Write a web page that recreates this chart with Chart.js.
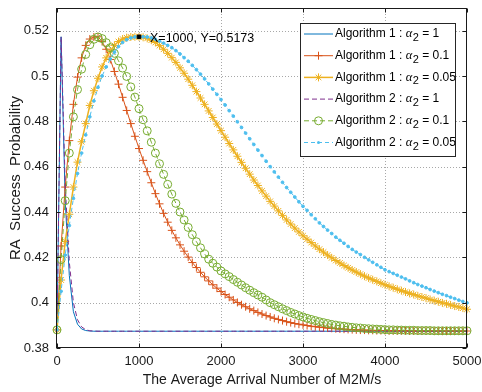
<!DOCTYPE html>
<html>
<head>
<meta charset="utf-8">
<script src="https://cdn.jsdelivr.net/npm/chart.js@4.4.1/dist/chart.umd.min.js"></script>
<style>
  html, body { margin: 0; padding: 0; background: #fff; }
  #wrap { width: 482px; height: 392px; }
</style>
</head>
<body>
<div id="wrap"><canvas id="chart" width="482" height="392"></canvas></div>
<script>
// average arrival number of M2M/s (x)
const arrival = [
  0, 50, 100, 150, 200, 250, 300, 350, 400, 450,
  500, 550, 600, 650, 700, 750, 800, 850, 900, 950,
  1000, 1050, 1100, 1150, 1200, 1250, 1300, 1350, 1400, 1450,
  1500, 1550, 1600, 1650, 1700, 1750, 1800, 1850, 1900, 1950,
  2000, 2050, 2100, 2150, 2200, 2250, 2300, 2350, 2400, 2450,
  2500, 2550, 2600, 2650, 2700, 2750, 2800, 2850, 2900, 2950,
  3000, 3050, 3100, 3150, 3200, 3250, 3300, 3350, 3400, 3450,
  3500, 3550, 3600, 3650, 3700, 3750, 3800, 3850, 3900, 3950,
  4000, 4050, 4100, 4150, 4200, 4250, 4300, 4350, 4400, 4450,
  4500, 4550, 4600, 4650, 4700, 4750, 4800, 4850, 4900, 4950,
  5000
];

// RA success probability, Algorithm 1
const alg1Alpha1 = [
  0.388, 0.5173, 0.445, 0.412, 0.396, 0.3905, 0.3884, 0.3877, 0.3875, 0.3874,
  0.3874, 0.3874, 0.3874, 0.3874, 0.3874, 0.3874, 0.3874, 0.3874, 0.3874, 0.3874,
  0.3874, 0.3874, 0.3874, 0.3874, 0.3874, 0.3874, 0.3874, 0.3874, 0.3874, 0.3874,
  0.3874, 0.3874, 0.3874, 0.3874, 0.3874, 0.3874, 0.3874, 0.3874, 0.3874, 0.3874,
  0.3874, 0.3874, 0.3874, 0.3874, 0.3874, 0.3874, 0.3874, 0.3874, 0.3874, 0.3874,
  0.3874, 0.3874, 0.3874, 0.3874, 0.3874, 0.3874, 0.3874, 0.3874, 0.3874, 0.3874,
  0.3874, 0.3874, 0.3874, 0.3874, 0.3874, 0.3874, 0.3874, 0.3874, 0.3874, 0.3874,
  0.3874, 0.3874, 0.3874, 0.3874, 0.3874, 0.3874, 0.3874, 0.3874, 0.3874, 0.3874,
  0.3874, 0.3874, 0.3874, 0.3874, 0.3874, 0.3874, 0.3874, 0.3874, 0.3874, 0.3874,
  0.3874, 0.3874, 0.3874, 0.3874, 0.3874, 0.3874, 0.3874, 0.3874, 0.3874, 0.3874,
  0.3874
];
const alg1Alpha01 = [
  0.388, 0.425, 0.451, 0.4715, 0.4875, 0.4995, 0.508, 0.5135, 0.5163, 0.5172,
  0.5173, 0.5152, 0.5118, 0.5073, 0.5020, 0.4964, 0.4906, 0.4848, 0.4790, 0.4734,
  0.4680, 0.4628, 0.4578, 0.4529, 0.4481, 0.4436, 0.4394, 0.4355, 0.4319, 0.4286,
  0.4255, 0.4227, 0.4201, 0.4177, 0.4155, 0.4134, 0.4114, 0.4096, 0.4079, 0.4064,
  0.4049, 0.4036, 0.4024, 0.4012, 0.4001, 0.3991, 0.3982, 0.3973, 0.3965, 0.3957,
  0.3950, 0.3943, 0.3937, 0.3931, 0.3926, 0.3921, 0.3916, 0.3912, 0.3908, 0.3905,
  0.3902, 0.3899, 0.3896, 0.3894, 0.3892, 0.3890, 0.3888, 0.3887, 0.3885, 0.3884,
  0.3883, 0.3882, 0.3881, 0.3880, 0.3879, 0.3879, 0.3878, 0.3878, 0.3877, 0.3877,
  0.3877, 0.3876, 0.3876, 0.3876, 0.3876, 0.3876, 0.3875, 0.3875, 0.3875, 0.3875,
  0.3875, 0.3875, 0.3875, 0.3875, 0.3875, 0.3875, 0.3875, 0.3875, 0.3875, 0.3875,
  0.3875
];
const alg1Alpha005 = [
  0.388, 0.410, 0.427, 0.439, 0.451, 0.462, 0.471, 0.479, 0.487, 0.4935,
  0.499, 0.504, 0.508, 0.511, 0.5135, 0.5152, 0.5163, 0.5169, 0.5172, 0.5173,
  0.5173, 0.5171, 0.5166, 0.5158, 0.5148, 0.5134, 0.5118, 0.5100, 0.5081, 0.5060,
  0.5036, 0.5012, 0.4986, 0.4959, 0.4931, 0.4903, 0.4875, 0.4846, 0.4817, 0.4788,
  0.4759, 0.4730, 0.4702, 0.4674, 0.4646, 0.4619, 0.4593, 0.4567, 0.4541, 0.4517,
  0.4493, 0.4470, 0.4447, 0.4426, 0.4405, 0.4385, 0.4365, 0.4347, 0.4329, 0.4312,
  0.4295, 0.4280, 0.4265, 0.4250, 0.4236, 0.4223, 0.4210, 0.4198, 0.4186, 0.4175,
  0.4164, 0.4154, 0.4144, 0.4135, 0.4126, 0.4117, 0.4109, 0.4101, 0.4094, 0.4086,
  0.4079, 0.4072, 0.4066, 0.4059, 0.4053, 0.4047, 0.4041, 0.4036, 0.4030, 0.4025,
  0.4020, 0.4014, 0.4009, 0.4004, 0.3999, 0.3995, 0.3990, 0.3985, 0.3981, 0.3976,
  0.3971
];

// RA success probability, Algorithm 2
const alg2Alpha1 = [
  0.388, 0.5173, 0.452, 0.418, 0.400, 0.3925, 0.3893, 0.3881, 0.3876, 0.3875,
  0.3874, 0.3874, 0.3874, 0.3874, 0.3874, 0.3874, 0.3874, 0.3874, 0.3874, 0.3874,
  0.3874, 0.3874, 0.3874, 0.3874, 0.3874, 0.3874, 0.3874, 0.3874, 0.3874, 0.3874,
  0.3874, 0.3874, 0.3874, 0.3874, 0.3874, 0.3874, 0.3874, 0.3874, 0.3874, 0.3874,
  0.3874, 0.3874, 0.3874, 0.3874, 0.3874, 0.3874, 0.3874, 0.3874, 0.3874, 0.3874,
  0.3874, 0.3874, 0.3874, 0.3874, 0.3874, 0.3874, 0.3874, 0.3874, 0.3874, 0.3874,
  0.3874, 0.3874, 0.3874, 0.3874, 0.3874, 0.3874, 0.3874, 0.3874, 0.3874, 0.3874,
  0.3874, 0.3874, 0.3874, 0.3874, 0.3874, 0.3874, 0.3874, 0.3874, 0.3874, 0.3874,
  0.3874, 0.3874, 0.3874, 0.3874, 0.3874, 0.3874, 0.3874, 0.3874, 0.3874, 0.3874,
  0.3874, 0.3874, 0.3874, 0.3874, 0.3874, 0.3874, 0.3874, 0.3874, 0.3874, 0.3874,
  0.3874
];
const alg2Alpha01 = [
  0.388, 0.419, 0.445, 0.466, 0.482, 0.494, 0.503, 0.5095, 0.5138, 0.5162,
  0.5172, 0.5165, 0.5147, 0.5125, 0.5100, 0.5067, 0.5035, 0.4998, 0.4952, 0.4907,
  0.4856, 0.4807, 0.4758, 0.4708, 0.4660, 0.4613, 0.4566, 0.4522, 0.4479, 0.4438,
  0.4400, 0.4365, 0.4332, 0.4300, 0.4269, 0.4242, 0.4215, 0.4192, 0.4174, 0.4157,
  0.4140, 0.4127, 0.4115, 0.4102, 0.4090, 0.4078, 0.4066, 0.4055, 0.4044, 0.4034,
  0.4024, 0.4012, 0.4000, 0.3991, 0.3982, 0.3973, 0.3965, 0.3957, 0.3950, 0.3943,
  0.3937, 0.3931, 0.3926, 0.3921, 0.3916, 0.3912, 0.3908, 0.3904, 0.3901, 0.3898,
  0.3896, 0.3893, 0.3891, 0.3889, 0.3888, 0.3886, 0.3885, 0.3884, 0.3883, 0.3882,
  0.3881, 0.3880, 0.3880, 0.3879, 0.3879, 0.3878, 0.3878, 0.3878, 0.3877, 0.3877,
  0.3877, 0.3877, 0.3876, 0.3876, 0.3876, 0.3876, 0.3876, 0.3876, 0.3876, 0.3876,
  0.3876
];
const alg2Alpha005 = [
  0.388, 0.405, 0.421, 0.434, 0.446, 0.457, 0.466, 0.474, 0.482, 0.489,
  0.495, 0.500, 0.504, 0.5075, 0.5105, 0.513, 0.5148, 0.516, 0.5168, 0.5172,
  0.5173, 0.5173, 0.5172, 0.5168, 0.5162, 0.5154, 0.5145, 0.5135, 0.5125, 0.5112,
  0.5097, 0.5081, 0.5065, 0.5047, 0.5028, 0.5008, 0.4987, 0.4965, 0.4942, 0.4919,
  0.4896, 0.4872, 0.4847, 0.4823, 0.4798, 0.4773, 0.4748, 0.4723, 0.4698, 0.4673,
  0.4649, 0.4624, 0.4600, 0.4577, 0.4554, 0.4531, 0.4508, 0.4487, 0.4466, 0.4445,
  0.4425, 0.4407, 0.4388, 0.4370, 0.4352, 0.4336, 0.4320, 0.4305, 0.4289, 0.4275,
  0.4262, 0.4248, 0.4235, 0.4223, 0.4212, 0.4200, 0.4189, 0.4178, 0.4167, 0.4156,
  0.4145, 0.4137, 0.4129, 0.4121, 0.4113, 0.4105, 0.4096, 0.4088, 0.4080, 0.4073,
  0.4066, 0.4058, 0.4051, 0.4044, 0.4037, 0.4031, 0.4024, 0.4018, 0.4011, 0.4005,
  0.3999
];

const xTicks = [0, 1000, 2000, 3000, 4000, 5000];
const yTicks = [0.38, 0.4, 0.42, 0.44, 0.46, 0.48, 0.5, 0.52];
const algNames = ['Algorithm 1', 'Algorithm 1', 'Algorithm 1', 'Algorithm 2', 'Algorithm 2', 'Algorithm 2'];
const alphaLabels = ['1', '0.1', '0.05', '1', '0.1', '0.05'];
const tipIndex = 20; // data tip on Algorithm 1, alpha2 = 0.05

const FONT = '"Liberation Sans", Arial, Helvetica, sans-serif';
const AXIS = '#1a1a1a';

// matlab-ish line styles
const styles = [
  { color: '#0072BD', dash: [], width: 1, marker: null },
  { color: '#D95319', dash: [], width: 1, marker: 'cross' },
  { color: '#EDB120', dash: [], width: 1.5, marker: 'star' },
  { color: '#7E2F8E', dash: [5, 3], width: 1, marker: null },
  { color: '#77AC30', dash: [5, 3], width: 1, marker: 'circle' },
  { color: '#4DBEEE', dash: [4, 3], width: 1, marker: 'dot' }
];

const allSeries = [alg1Alpha1, alg1Alpha01, alg1Alpha005, alg2Alpha1, alg2Alpha01, alg2Alpha005];

const datasets = allSeries.map((vals, i) => {
  const s = styles[i];
  return {
    label: algNames[i] + ' : α2 = ' + alphaLabels[i],
    data: vals.map((v, k) => ({ x: arrival[k], y: v })),
    borderColor: s.color,
    borderWidth: s.width,
    borderDash: s.dash,
    pointStyle: s.marker === 'dot' ? 'circle' : (s.marker || 'circle'),
    pointRadius: s.marker === null ? 0 : (s.marker === 'dot' ? 1.4 : 4),
    pointBorderColor: s.color,
    pointBackgroundColor: s.marker === 'dot' ? s.color : 'rgba(0,0,0,0)',
    pointBorderWidth: 1,
    fill: false,
    tension: 0,
    clip: false,
    order: 10 - i
  };
});

// data tip marker
datasets.push({
  label: 'tip',
  data: [{ x: arrival[tipIndex], y: alg1Alpha005[tipIndex] }],
  showLine: false,
  pointStyle: 'rect',
  pointRadius: 2.5,
  pointBackgroundColor: '#000',
  pointBorderColor: '#000',
  pointBorderWidth: 1,
  clip: false,
  order: 0
});

function drawMarker(ctx, type, x, y, color) {
  ctx.save();
  ctx.setLineDash([]);
  ctx.strokeStyle = color;
  ctx.fillStyle = color;
  ctx.lineWidth = 1;
  ctx.beginPath();
  if (type === 'cross' || type === 'star') {
    ctx.moveTo(x - 4, y); ctx.lineTo(x + 4, y);
    ctx.moveTo(x, y - 4); ctx.lineTo(x, y + 4);
    if (type === 'star') {
      ctx.moveTo(x - 2.8, y - 2.8); ctx.lineTo(x + 2.8, y + 2.8);
      ctx.moveTo(x - 2.8, y + 2.8); ctx.lineTo(x + 2.8, y - 2.8);
    }
    ctx.stroke();
  } else if (type === 'circle') {
    ctx.arc(x, y, 4, 0, Math.PI * 2);
    ctx.stroke();
  } else if (type === 'dot') {
    ctx.arc(x, y, 1.5, 0, Math.PI * 2);
    ctx.fill();
  }
  ctx.restore();
}

// dotted grid under the data
const gridPlugin = {
  id: 'matlabGrid',
  beforeDatasetsDraw(chart) {
    const { ctx, chartArea: a, scales: { x, y } } = chart;
    ctx.save();
    ctx.strokeStyle = '#a8a8a8';
    ctx.lineWidth = 1;
    ctx.setLineDash([1, 2]);
    ctx.beginPath();
    xTicks.forEach(v => {
      const px = Math.round(x.getPixelForValue(v)) + 0.5;
      if (px < a.left + 2 || px > a.right - 2) return;
      ctx.moveTo(px, a.top); ctx.lineTo(px, a.bottom);
    });
    yTicks.forEach(v => {
      const py = Math.round(y.getPixelForValue(v)) + 0.5;
      if (py < a.top + 2 || py > a.bottom - 2) return;
      ctx.moveTo(a.left, py); ctx.lineTo(a.right, py);
    });
    ctx.stroke();
    ctx.restore();
  }
};

// box, inward ticks, data tip text, legend
const framePlugin = {
  id: 'matlabFrame',
  afterDraw(chart) {
    const { ctx, chartArea: a, scales: { x, y } } = chart;
    ctx.save();
    ctx.strokeStyle = AXIS;
    ctx.lineWidth = 1;
    ctx.setLineDash([]);
    const L = Math.round(a.left) - 0.5, R = Math.round(a.right) - 0.5;
    const T = Math.round(a.top) + 0.5, B = Math.round(a.bottom) - 0.5;
    ctx.strokeRect(L, T, R - L, B - T);
    ctx.beginPath();
    xTicks.forEach(v => {
      const px = Math.round(x.getPixelForValue(v)) + 0.5;
      ctx.moveTo(px, B); ctx.lineTo(px, B - 4);
      ctx.moveTo(px, T); ctx.lineTo(px, T + 4);
    });
    yTicks.forEach(v => {
      const py = Math.round(y.getPixelForValue(v)) + 0.5;
      ctx.moveTo(L, py); ctx.lineTo(L + 4, py);
      ctx.moveTo(R, py); ctx.lineTo(R - 4, py);
    });
    ctx.stroke();

    // data tip label
    const tx = x.getPixelForValue(arrival[tipIndex]);
    const ty = y.getPixelForValue(alg1Alpha005[tipIndex]);
    ctx.fillStyle = '#000';
    ctx.font = '12.5px ' + FONT;
    ctx.textBaseline = 'middle';
    ctx.textAlign = 'left';
    ctx.fillText('X=' + arrival[tipIndex] + ', Y=' + alg1Alpha005[tipIndex], tx + 11, ty + 2);

    // legend
    const boxL = a.right - 167, boxT = a.top + 15, boxW = 155, boxH = 133;
    ctx.fillStyle = '#fff';
    ctx.fillRect(boxL, boxT, boxW, boxH);
    ctx.strokeStyle = '#262626';
    ctx.strokeRect(Math.round(boxL) + 0.5, Math.round(boxT) + 0.5, boxW, boxH);
    const baseFont = '12px ' + FONT;
    styles.forEach((s, i) => {
      const ry = boxT + 11 + i * 21.7;
      const x0 = boxL + 4, x1 = boxL + 33;
      ctx.save();
      ctx.strokeStyle = s.color;
      ctx.lineWidth = s.width;
      ctx.setLineDash(s.dash);
      ctx.beginPath();
      ctx.moveTo(x0, ry); ctx.lineTo(x1, ry);
      ctx.stroke();
      ctx.restore();
      if (s.marker) drawMarker(ctx, s.marker, (x0 + x1) / 2, ry, s.color);

      let cx = boxL + 35;
      ctx.fillStyle = '#000';
      ctx.font = baseFont;
      const head = algNames[i] + ' : ';
      ctx.fillText(head, cx, ry);
      cx += ctx.measureText(head).width;
      ctx.font = 'italic 12.5px "Liberation Serif", "DejaVu Serif", serif';
      ctx.fillText('α', cx, ry);
      cx += ctx.measureText('α').width + 0.5;
      ctx.font = '11px ' + FONT;
      ctx.fillText('2', cx, ry + 4);
      cx += ctx.measureText('2').width;
      ctx.font = baseFont;
      ctx.fillText(' = ' + alphaLabels[i], cx, ry);
    });
    ctx.restore();
  }
};

Chart.defaults.font.family = FONT;
Chart.defaults.color = AXIS;

new Chart(document.getElementById('chart'), {
  type: 'line',
  data: { datasets: datasets },
  options: {
    responsive: false,
    devicePixelRatio: 1,
    animation: false,
    events: [],
    layout: { padding: { left: 0, top: 8, right: 0, bottom: 0 } },
    plugins: { legend: { display: false }, tooltip: { enabled: false } },
    scales: {
      x: {
        type: 'linear',
        min: 0,
        max: 5000,
        afterFit: s => { s.height = 44; s.paddingLeft = 0; s.paddingRight = 15; },
        afterBuildTicks: s => { s.ticks = xTicks.map(v => ({ value: v })); },
        grid: { display: false, drawTicks: false },
        border: { display: false },
        ticks: { autoSkip: false, maxRotation: 0, padding: 6, font: { size: 13 }, color: AXIS, callback: v => String(v) },
        title: { display: true, text: 'The Average Arrival Number of M2M/s', font: { size: 14 }, color: AXIS, padding: { top: 0, bottom: 3 } }
      },
      y: {
        type: 'linear',
        min: 0.38,
        max: 0.53,
        afterFit: s => { s.width = 57; s.paddingTop = 0; s.paddingBottom = 0; },
        afterBuildTicks: s => { s.ticks = yTicks.map(v => ({ value: v })); },
        grid: { display: false, drawTicks: false },
        border: { display: false },
        ticks: { autoSkip: false, padding: 8, font: { size: 13 }, color: AXIS, callback: v => String(v) },
        title: { display: true, text: 'RA  Success  Probability', font: { size: 15 }, color: AXIS, padding: { top: 7, bottom: 0 } }
      }
    }
  },
  plugins: [gridPlugin, framePlugin]
});
</script>
</body>
</html>
